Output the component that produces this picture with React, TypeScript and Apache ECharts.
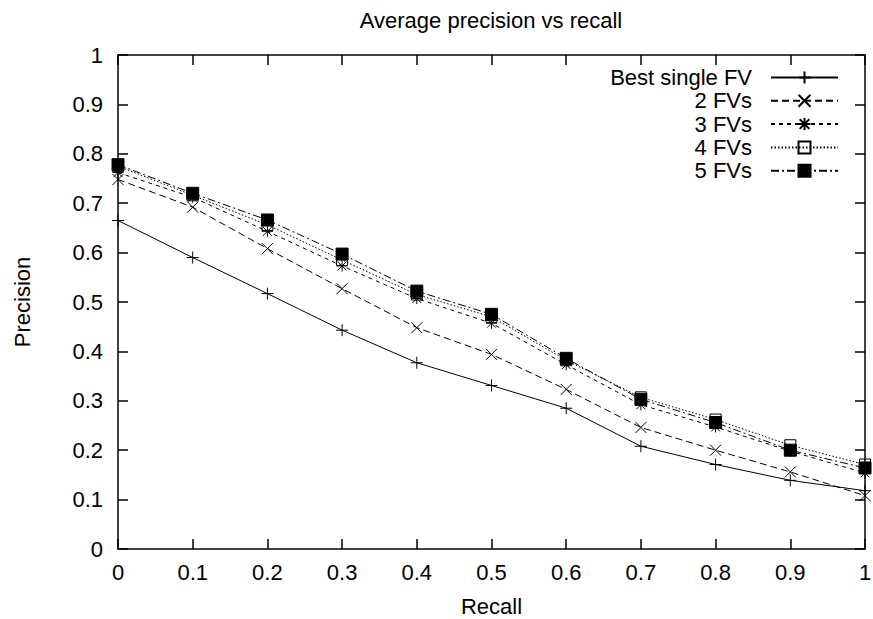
import React, { useEffect, useRef } from "react";
import * as echarts from "echarts";

const recall = [0, 0.1, 0.2, 0.3, 0.4, 0.5, 0.6, 0.7, 0.8, 0.9, 1.0];
const bestSingleFV = [0.665, 0.59, 0.517, 0.443, 0.377, 0.331, 0.285, 0.208, 0.171, 0.139, 0.118];
const fv2 = [0.748, 0.692, 0.608, 0.527, 0.448, 0.394, 0.323, 0.246, 0.2, 0.156, 0.108];
const fv3 = [0.762, 0.712, 0.643, 0.573, 0.507, 0.457, 0.373, 0.292, 0.247, 0.198, 0.154];
const fv4 = [0.775, 0.716, 0.656, 0.585, 0.515, 0.47, 0.382, 0.307, 0.262, 0.21, 0.171];
const fv5 = [0.778, 0.72, 0.666, 0.597, 0.522, 0.475, 0.386, 0.303, 0.256, 0.2, 0.164];
const seriesNames = ["Best single FV", "2 FVs", "3 FVs", "4 FVs", "5 FVs"];
const titleText = "Average precision vs recall";
const xName = "Recall";
const yName = "Precision";

const FONT = "'Liberation Sans', Arial, Helvetica, sans-serif";

export default function App() {
  const ref = useRef<HTMLDivElement>(null);
  useEffect(() => {
    if (!ref.current) return;
    const chart = echarts.init(ref.current, undefined, { renderer: "svg" });
    const pts = (vals: number[]) => recall.map((r, i) => [r, vals[i]]);
    const plus = "path://M0,5H10M5,0V10";
    const cross = "path://M0,0L10,10M10,0L0,10";
    const star = "path://M0,5H10M5,0V10M1,1L9,9M9,1L1,9";
    const styles = [
      { data: bestSingleFV, symbol: plus, size: 12, type: "solid" as any, fill: "transparent", color: "#000" },
      { data: fv2, symbol: cross, size: 11, type: [7, 4], fill: "transparent", color: "#000" },
      { data: fv3, symbol: star, size: 11, type: [4, 4], fill: "transparent", color: "#000" },
      { data: fv4, symbol: "rect", size: 11, type: [1.5, 2], fill: "transparent", color: "#000" },
      { data: fv5, symbol: "rect", size: 12, type: [8, 3, 2, 3], fill: "#000", color: "#000" },
    ];
    const axisLine = { show: true, onZero: false, lineStyle: { color: "#000", width: 1.5 } };
    const axisTick = { show: true, inside: true, length: 10, lineStyle: { color: "#000", width: 1.5 } };
    const labelStyle = { color: "#000", fontSize: 22, fontFamily: FONT };
    chart.setOption({
      animation: false,
      backgroundColor: "#fff",
      grid: { left: 118, top: 55, width: 747, height: 494, outerBoundsMode: "none", containLabel: false },
      graphic: [
        {
          type: "text",
          x: 491,
          y: 20,
          style: { text: titleText, fontSize: 22, fontFamily: FONT, fill: "#000", textAlign: "center", textVerticalAlign: "middle" },
        },
      ],
      legend: {
        orient: "vertical",
        align: "right",
        right: 29,
        top: 61,
        itemWidth: 67,
        itemHeight: 15,
        itemGap: 0.3,
        textStyle: { ...labelStyle, lineHeight: 23, padding: [0, 14, 0, 0] },
        data: seriesNames,
      },
      xAxis: [
        {
          type: "value",
          min: 0,
          max: 1,
          interval: 0.1,
          position: "bottom",
          axisLine,
          axisTick,
          splitLine: { show: false },
          axisLabel: { ...labelStyle, margin: 12 },
          name: xName,
          nameLocation: "middle",
          nameGap: 46,
          nameTextStyle: labelStyle,
        },
        {
          type: "value",
          min: 0,
          max: 1,
          interval: 0.1,
          position: "top",
          axisLine,
          axisTick,
          splitLine: { show: false },
          axisLabel: { show: false },
        },
      ],
      yAxis: [
        {
          type: "value",
          min: 0,
          max: 1,
          interval: 0.1,
          position: "left",
          axisLine,
          axisTick,
          splitLine: { show: false },
          axisLabel: { ...labelStyle, margin: 15 },
          name: yName,
          nameLocation: "middle",
          nameRotate: 90,
          nameGap: 85,
          nameTextStyle: labelStyle,
        },
        {
          type: "value",
          min: 0,
          max: 1,
          interval: 0.1,
          position: "right",
          axisLine,
          axisTick,
          splitLine: { show: false },
          axisLabel: { show: false },
        },
      ],
      series: styles.map((s, i) => ({
        name: seriesNames[i],
        type: "line",
        xAxisIndex: 0,
        yAxisIndex: 0,
        data: pts(s.data),
        symbol: s.symbol,
        symbolSize: s.size,
        showSymbol: true,
        clip: false,
        lineStyle: { color: s.color, width: 1, type: s.type },
        itemStyle: { color: s.fill, borderColor: "#000", borderWidth: 1 },
        emphasis: { disabled: true },
        z: 2 + i,
      })),
    });
    return () => chart.dispose();
  }, []);
  return <div ref={ref} style={{ width: 873, height: 619, position: "absolute", left: 0, top: 0 }} />;
}
